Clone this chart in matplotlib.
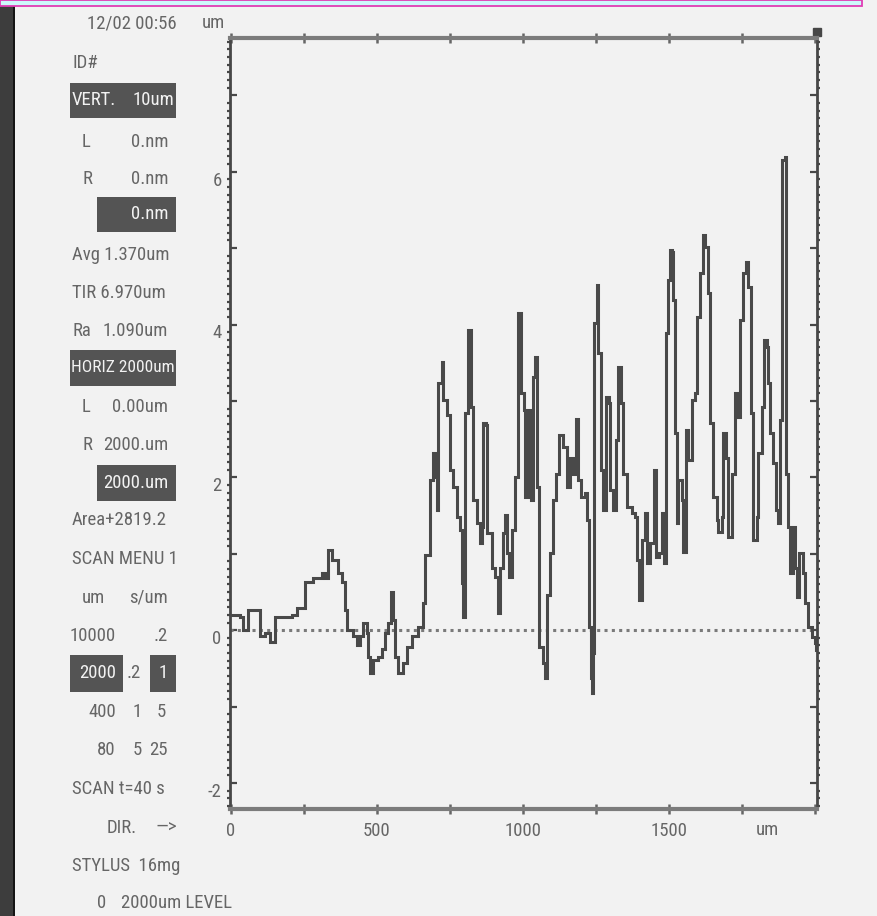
import matplotlib
matplotlib.use('Agg')
import matplotlib.pyplot as plt
from matplotlib.patches import Rectangle
from matplotlib.ticker import MultipleLocator
from matplotlib import font_manager
import matplotlib.transforms as mtransforms

W, H = 877, 916

# ---------------- data ----------------
profile_x = [0, 31, 41, 58, 99, 116, 134, 151, 178, 209,
             226, 253, 281, 312, 322, 332, 346, 366, 380, 390,
             397, 418, 432, 442, 452, 466, 469, 476, 486, 503,
             517, 527, 538, 548, 555, 562, 572, 589, 603, 620,
             640, 654, 658, 664, 682, 692, 699, 705, 709, 723,
             726, 740, 750, 760, 774, 784, 791, 795, 801, 812,
             822, 829, 842, 853, 860, 863, 873, 877, 894, 904,
             914, 921, 932, 938, 945, 952, 962, 973, 983, 993,
             1003, 1007, 1017, 1027, 1034, 1041, 1048, 1055, 1068, 1075,
             1082, 1092, 1103, 1113, 1123, 1137, 1151, 1161, 1171, 1182,
             1188, 1199, 1212, 1219, 1226, 1233, 1236, 1240, 1243, 1253,
             1257, 1267, 1274, 1284, 1295, 1298, 1308, 1318, 1325, 1336,
             1342, 1356, 1373, 1384, 1390, 1397, 1408, 1418, 1425, 1435,
             1449, 1455, 1466, 1476, 1483, 1490, 1497, 1503, 1510, 1514,
             1521, 1527, 1531, 1545, 1548, 1558, 1565, 1579, 1589, 1596,
             1606, 1616, 1623, 1634, 1640, 1651, 1664, 1668, 1682, 1685,
             1695, 1702, 1716, 1726, 1736, 1743, 1753, 1764, 1771, 1781,
             1788, 1801, 1805, 1818, 1825, 1836, 1839, 1846, 1856, 1866,
             1873, 1880, 1887, 1897, 1901, 1908, 1914, 1925, 1932, 1938,
             1945, 1959, 1966, 1976, 1990, 2000, 2005]
profile_y = [0.20, 0.17, 0.00, 0.26, -0.07, -0.04, -0.16, 0.17, 0.17, 0.20,
             0.29, 0.63, 0.68, 0.75, 0.68, 1.05, 0.92, 0.75, 0.63, 0.26,
             0.00, -0.07, -0.20, -0.07, 0.10, -0.04, -0.35, -0.56, -0.39, -0.35,
             -0.24, -0.04, 0.09, 0.50, 0.13, -0.35, -0.56, -0.43, -0.22, -0.07,
             0.04, 0.04, 0.35, 0.98, 1.96, 2.32, 2.00, 1.57, 3.23, 3.51,
             3.01, 2.81, 2.09, 1.87, 1.48, 1.31, 0.62, 0.17, 2.84, 3.93,
             2.92, 1.70, 1.40, 1.14, 1.35, 2.71, 2.68, 1.27, 0.82, 0.69,
             0.22, 0.82, 1.27, 1.51, 1.01, 0.69, 1.31, 2.00, 4.15, 3.10,
             2.88, 1.74, 2.88, 1.70, 3.31, 3.57, 1.87, -0.22, -0.43, -0.62,
             0.46, 1.01, 1.70, 2.05, 2.55, 2.40, 1.87, 2.26, 2.05, 2.77,
             1.96, 1.74, 1.79, 1.44, 0.04, -0.62, -0.82, -0.30, 4.02, 4.52,
             3.63, 2.09, 1.57, 3.05, 2.97, 1.83, 1.57, 2.49, 3.44, 2.97,
             2.05, 1.61, 1.53, 1.48, 0.92, 0.39, 1.18, 1.53, 0.88, 1.14,
             2.09, 0.96, 1.01, 1.53, 0.88, 3.89, 4.58, 4.97, 4.95, 4.32,
             2.58, 1.40, 1.96, 1.70, 1.02, 2.62, 2.23, 3.01, 3.10, 4.10,
             4.67, 5.17, 5.01, 4.41, 2.71, 1.74, 1.44, 1.28, 1.48, 2.58,
             2.26, 1.22, 2.05, 3.10, 2.79, 4.06, 4.67, 4.82, 4.49, 2.84,
             1.18, 1.48, 2.32, 2.92, 3.80, 3.70, 3.23, 2.58, 2.19, 1.57,
             1.40, 2.75, 6.15, 6.19, 2.05, 1.35, 0.75, 1.35, 0.82, 0.43,
             1.01, 0.75, 0.35, 0.04, -0.09, -0.17, -0.26]

x_ticks = [0, 250, 500, 750, 1000, 1250, 1500, 1750, 2000]
x_tick_labels = ['0', '', '500', '', '1000', '', '1500', '', '']
y_ticks = [-2, -1, 0, 1, 2, 3, 4, 5, 6, 7]
y_tick_labels = ['-2', '', '0', '', '2', '', '4', '', '6', '']
x_unit = 'um'
y_unit = 'um'

# ---------------- fonts: prefer a narrow face like the instrument's ----------------
FAM, STR, FS = ['DejaVu Sans Mono'], 'normal', 11
_cands = [('Liberation Sans Narrow', 'normal', 13.5),
          ('Roboto Condensed', 'normal', 13.5),
          ('DejaVu Sans', 'condensed', 12.0),
          ('Noto Sans', 'condensed', 12.5),
          ('Open Sans', 'condensed', 12.5)]
for _fam, _st, _fs in _cands:
    try:
        _p = font_manager.findfont(font_manager.FontProperties(family=_fam, stretch=_st),
                                   fallback_to_default=False)
    except Exception:
        continue
    if ('ondensed' in _p) or ('Narrow' in _p) or ('ONDENSED' in _p.upper()):
        FAM, STR, FS = [_fam], _st, _fs
        break

TXT = '#666666'
BOXC = '#545454'
BOXT = '#f2f2f2'
BG = '#f2f2f2'

fig = plt.figure(figsize=(W / 100, H / 100), dpi=100, facecolor=BG)


def ftext(px, py, s, ha='left', color=TXT, z=3, fs=None):
    fig.text(px / W, 1 - py / H, s, ha=ha, va='center', color=color,
             family=FAM, fontstretch=STR, fontsize=fs or FS, zorder=z)


def fbox(x0, y0, x1, y1):
    fig.patches.append(Rectangle((x0 / W, 1 - y1 / H), (x1 - x0) / W, (y1 - y0) / H,
                                 transform=fig.transFigure, facecolor=BOXC,
                                 edgecolor='none', zorder=1))


# decorations: dark left film edge, top banner
fig.patches.append(Rectangle((0, 0), 13 / W, 1, transform=fig.transFigure,
                             facecolor='#3d3d3d', edgecolor='none', zorder=0))
fig.patches.append(Rectangle((13 / W, 0), 2 / W, 1, transform=fig.transFigure,
                             facecolor='#151515', edgecolor='none', zorder=0))
fig.patches.append(Rectangle((0, 1 - 6 / H), 862 / W, 6 / H, transform=fig.transFigure,
                             facecolor='#cdf8fb', edgecolor='#e03cb4', lw=1.3, zorder=5))

# ---------------- left info panel ----------------
fbox(70, 83, 176, 118)
fbox(97, 197, 176, 232)
fbox(70, 350, 176, 386)
fbox(97, 465, 176, 501)
fbox(70, 655, 123, 692)
fbox(150, 655, 176, 692)

ftext(177, 23, '12/02 00:56', ha='right')
ftext(72, 63, 'ID#')
ftext(72, 100, 'VERT.', color=BOXT)
ftext(174, 100, '10um', ha='right', color=BOXT)
ftext(82, 142, 'L')
ftext(168, 142, '0.nm', ha='right')
ftext(82, 179, 'R')
ftext(168, 179, '0.nm', ha='right')
ftext(168, 214, '0.nm', ha='right', color=BOXT)
ftext(72, 255, 'Avg 1.370um')
ftext(72, 293, 'TIR 6.970um')
ftext(72, 331, 'Ra')
ftext(168, 331, '1.090um', ha='right')
ftext(123, 368, 'HORIZ 2000um', ha='center', color=BOXT, fs=FS * 0.93)
ftext(82, 407, 'L')
ftext(168, 407, '0.00um', ha='right')
ftext(82, 445, 'R')
ftext(168, 445, '2000.um', ha='right')
ftext(168, 483, '2000.um', ha='right', color=BOXT)
ftext(72, 520, 'Area+2819.2')
ftext(72, 559, 'SCAN MENU 1')
ftext(105, 598, 'um', ha='right')
ftext(168, 598, 's/um', ha='right')
ftext(116, 636, '10000', ha='right')
ftext(168, 636, '.2', ha='right')
ftext(116, 673, '2000', ha='right', color=BOXT)
ftext(141, 673, '.2', ha='right')
ftext(163, 673, '1', ha='center', color=BOXT)
ftext(116, 712, '400', ha='right')
ftext(137, 712, '1', ha='center')
ftext(161, 712, '5', ha='center')
ftext(116, 750, '80', ha='right')
ftext(137, 750, '5', ha='center')
ftext(168, 750, '25', ha='right')
ftext(72, 789, 'SCAN t=40 s')
ftext(107, 828, 'DIR.')
ftext(177, 828, '—>', ha='right')
ftext(72, 866, 'STYLUS  16mg')
ftext(102, 903, '0', ha='center')
ftext(121, 903, '2000um LEVEL')

# ---------------- plot ----------------
ax = fig.add_axes([230 / W, 1 - 809 / H, (817 - 230) / W, (809 - 38) / H])
ax.set_facecolor(BG)
ax.plot(profile_x, profile_y, drawstyle='steps-post', color='#494949', lw=2.2,
        solid_joinstyle='miter', zorder=3)
ax.axhline(0, color='#7a7a7a', lw=2.2, linestyle=(0, (1.0, 1.4)), zorder=2)
ax.set_xlim(-3.4, 2007)
ax.set_ylim(-2.34, 7.75)

for s in ('top', 'bottom'):
    ax.spines[s].set_color('#7c7c7c')
    ax.spines[s].set_linewidth(3)
for s in ('left', 'right'):
    ax.spines[s].set_color('#474747')
    ax.spines[s].set_linewidth(2)

ax.set_xticks(x_ticks)
ax.set_xticklabels(x_tick_labels, family=FAM, fontstretch=STR, fontsize=FS, color=TXT)
ax.tick_params(axis='x', which='major', direction='inout', length=7, width=1.8,
               color='#666666', top=True, pad=6)

ax.set_yticks(y_ticks)
ax.set_yticklabels(y_tick_labels, family=FAM, fontstretch=STR, fontsize=FS, color=TXT)
ax.yaxis.set_minor_locator(MultipleLocator(0.1))
ax.tick_params(axis='y', which='major', direction='in', length=5, width=1.6,
               color='#474747', left=True, right=True, pad=6)
ax.tick_params(axis='y', which='minor', direction='out', length=2.5, width=1.6,
               color='#474747', left=True, right=True)
off = mtransforms.ScaledTranslation(0, -5 / 72, fig.dpi_scale_trans)
for lab in ax.get_yticklabels():
    lab.set_transform(lab.get_transform() + off)

# unit labels
ax.text(-0.028, 1.0 + 15 / 771, y_unit, transform=ax.transAxes, ha='center', va='center',
        family=FAM, fontstretch=STR, fontsize=FS, color=TXT)
ax.text((767 - 230) / 587, -21 / 771, x_unit, transform=ax.transAxes, ha='center',
        va='center', family=FAM, fontstretch=STR, fontsize=FS, color=TXT)

# corner marker at top right of trace frame
mk = mtransforms.ScaledTranslation(0, 6 / 100, fig.dpi_scale_trans)
ax.plot([1.0], [1.0], transform=ax.transAxes + mk, marker='s', ms=6,
        color='#474747', clip_on=False)

fig.savefig('out.png', dpi=100, facecolor=BG)
